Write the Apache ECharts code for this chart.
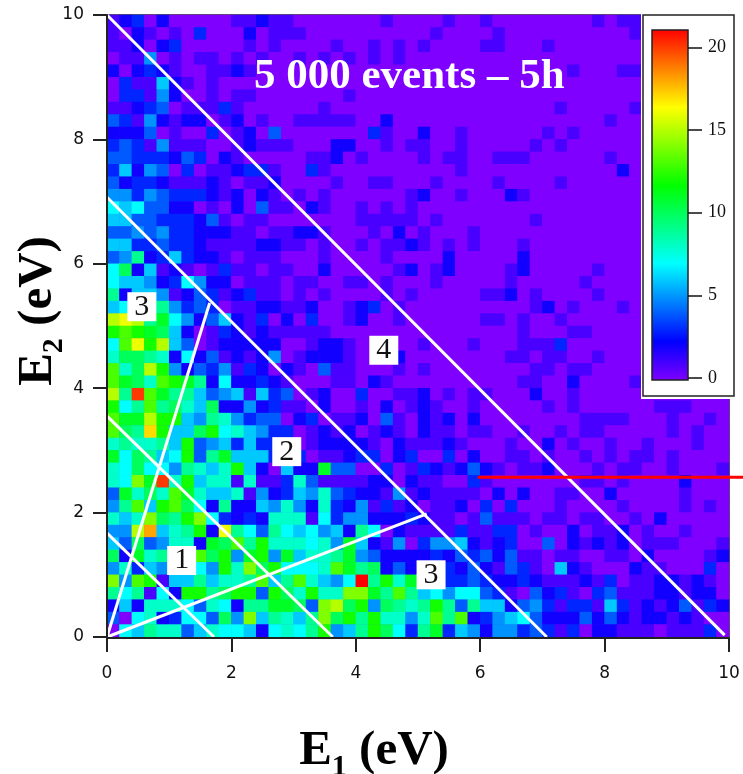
<!DOCTYPE html>
<html><head><meta charset="utf-8">
<style>html,body{margin:0;padding:0;background:#fff}#c{width:743px;height:774px}</style>
<script src="https://cdn.jsdelivr.net/npm/echarts@6/dist/echarts.min.js"></script>
</head><body><div id="c"></div>
<script>
// counts per 0.2 eV bin; first row is the top of the plot (E2 = 9.8-10)
const counts = [
[1,2,3,0,2,0,0,0,0,0,1,1,2,1,1,0,0,0,0,0,0,0,1,0,0,0,0,1,0,0,1,0,0,0,0,0,0,0,0,1,0,1,1,0,0,0,0,0,0,0],
[1,0,2,1,0,1,0,3,0,0,0,2,0,1,1,1,0,0,0,0,0,0,0,0,0,0,1,0,0,0,0,1,0,0,0,0,0,0,0,0,0,0,1,0,0,0,0,0,0,0],
[1,1,2,0,2,3,0,0,0,0,0,1,0,1,0,0,0,0,1,0,0,1,0,1,0,1,0,0,0,0,1,1,0,0,0,1,0,0,0,0,0,0,0,0,0,0,0,0,0,0],
[0,1,1,5,0,1,0,1,1,0,1,0,1,0,0,1,0,1,0,1,0,1,0,1,0,0,0,0,0,0,0,0,0,0,0,0,0,0,0,0,0,0,0,0,0,0,0,0,0,0],
[2,0,2,3,2,1,0,0,1,1,2,1,0,0,0,0,0,0,0,0,0,0,0,0,0,0,0,0,0,0,0,0,0,0,0,0,0,1,0,0,0,1,1,0,0,0,0,0,0,0],
[0,3,1,1,6,2,1,0,1,0,0,0,0,0,0,0,0,0,0,0,0,0,0,0,0,0,0,0,0,0,0,0,0,0,0,0,0,0,0,0,0,0,0,0,0,0,0,0,0,0],
[0,3,3,1,5,2,0,0,1,0,1,1,0,0,0,0,0,0,0,1,0,0,0,0,0,0,0,0,0,0,0,0,0,0,0,0,0,0,0,0,0,0,0,0,0,0,0,0,0,0],
[1,1,2,3,4,0,1,1,1,3,1,0,0,0,0,0,0,1,0,0,0,0,0,0,0,0,0,0,0,0,0,0,0,0,0,0,1,0,0,0,0,0,1,0,0,0,0,0,0,0],
[4,3,1,5,2,1,2,2,0,1,2,0,1,0,0,1,1,1,1,1,0,0,2,0,0,0,0,0,0,0,0,0,0,0,0,0,0,0,0,0,1,0,0,0,0,0,0,0,0,0],
[2,2,2,4,0,1,0,0,3,0,1,2,0,4,0,0,0,0,0,0,0,3,1,0,0,2,0,0,1,0,0,0,0,0,0,1,0,1,0,0,0,0,0,0,0,0,0,0,0,0],
[3,4,3,1,5,1,1,1,0,0,1,2,1,1,1,0,0,0,2,2,0,0,1,0,1,1,0,0,1,0,0,0,0,0,1,0,1,0,0,0,0,0,0,0,0,0,0,0,0,0],
[4,4,3,3,3,2,4,3,0,2,1,0,0,0,0,0,1,1,2,0,1,0,0,0,0,1,0,1,1,0,0,1,1,1,0,0,0,0,0,0,1,0,0,0,0,0,0,0,0,0],
[3,6,2,5,4,0,3,0,1,1,2,3,3,1,0,0,3,1,0,0,0,0,0,0,0,0,0,0,1,0,0,0,0,0,0,0,0,0,0,0,0,2,0,0,0,0,0,0,0,0],
[4,2,3,3,2,1,1,1,2,1,0,1,1,2,0,0,0,0,1,0,0,1,1,0,0,0,1,0,0,0,0,1,0,0,0,0,1,0,0,0,0,0,0,0,0,0,0,0,0,0],
[5,5,3,5,4,3,3,3,2,1,2,0,2,1,0,1,0,1,0,0,0,0,0,0,1,2,0,0,1,0,0,0,2,1,0,0,0,0,0,0,0,0,0,0,0,0,0,0,0,0],
[7,6,7,4,4,2,2,0,1,0,2,0,4,1,1,0,2,1,0,0,1,0,1,0,1,0,0,0,0,0,0,0,0,0,0,0,0,0,0,0,0,0,0,0,0,0,0,0,0,0],
[6,6,4,4,3,3,3,2,4,1,0,1,1,0,0,0,0,0,0,0,1,1,1,1,1,0,1,0,0,0,0,0,0,0,1,0,0,0,0,0,0,0,0,0,0,0,0,0,0,0],
[4,4,5,4,5,3,3,2,2,2,1,1,0,1,1,2,2,1,0,0,0,1,0,2,0,1,0,0,0,1,0,0,0,0,0,0,0,0,0,0,0,0,0,0,0,0,0,0,0,0],
[6,6,3,3,4,3,3,2,1,1,1,1,2,2,1,1,0,1,0,0,1,0,1,1,2,1,0,1,0,1,0,0,0,1,0,0,0,0,0,0,0,0,0,0,0,0,0,0,0,0],
[4,5,9,2,3,6,3,2,2,1,0,1,1,1,0,0,0,1,0,0,0,0,1,0,0,0,0,2,0,0,0,0,0,2,0,0,0,0,0,0,0,0,0,0,0,0,0,0,0,0],
[7,10,2,6,1,2,1,0,1,3,1,1,0,1,1,0,0,2,0,0,0,0,0,1,2,0,1,2,0,0,0,0,1,2,0,0,0,0,0,1,0,0,0,0,0,0,0,0,0,0],
[7,6,6,5,2,3,7,5,2,2,0,1,1,1,0,1,1,0,0,1,1,0,1,0,0,0,1,0,0,0,0,0,1,0,0,0,0,0,1,0,0,0,0,0,0,0,0,0,0,0],
[9,2,6,6,5,1,2,4,3,1,2,3,1,1,0,1,0,1,0,0,0,0,1,0,1,0,0,0,0,0,1,1,2,0,1,0,0,0,0,1,0,0,0,0,0,0,0,0,0,0],
[6,7,8,8,9,5,3,4,3,0,1,1,2,2,1,1,2,0,0,1,2,3,0,1,0,0,0,0,0,0,0,0,0,0,1,2,0,1,0,0,0,1,0,0,0,0,0,0,0,0],
[15,16,15,9,11,7,5,2,4,6,2,1,3,0,2,0,3,0,0,1,2,0,0,1,0,0,0,0,0,0,1,1,0,1,0,0,1,0,0,0,0,0,0,0,0,0,0,0,0,0],
[12,13,12,11,10,6,2,0,1,3,2,1,2,1,1,1,1,1,0,0,0,0,0,0,0,0,0,0,0,0,0,0,0,1,0,0,0,1,1,0,0,0,0,0,0,0,0,0,0,0],
[7,13,16,12,15,6,4,0,1,2,2,2,2,2,0,0,1,2,2,1,0,0,0,0,0,1,0,0,0,1,0,0,0,1,1,1,3,0,0,0,0,0,0,0,0,0,0,0,0,0],
[8,10,10,9,8,2,7,2,4,1,2,1,2,5,0,1,2,2,2,1,0,0,0,2,0,0,0,0,0,0,0,0,1,1,0,1,1,0,0,1,0,0,0,0,0,0,0,0,0,0],
[13,8,10,15,12,5,2,4,3,5,1,3,2,0,2,1,0,4,1,1,0,0,0,1,0,1,0,0,0,0,0,0,0,0,1,1,0,1,1,0,0,0,0,0,0,0,0,0,0,0],
[13,11,10,8,13,12,11,9,2,7,2,2,3,2,1,0,0,0,1,1,0,2,1,0,0,0,0,0,0,0,0,0,0,1,1,0,0,2,0,0,0,0,1,0,0,0,0,0,0,0],
[15,9,20,13,11,9,9,6,4,5,6,1,6,3,4,0,1,2,0,0,3,0,0,1,1,2,0,1,0,1,1,0,0,0,2,0,0,1,0,0,0,0,0,0,0,0,0,0,0,0],
[12,7,9,13,9,10,8,6,10,2,2,5,2,3,1,1,0,2,0,0,1,0,2,0,1,2,1,0,0,1,0,0,0,0,0,1,0,1,0,0,0,0,0,0,1,1,1,0,0,0],
[13,11,11,15,12,12,6,5,9,8,5,3,4,4,0,2,3,0,1,1,2,0,4,1,0,2,1,2,0,2,0,0,0,0,0,0,0,0,1,1,1,1,0,0,0,1,0,0,1,0],
[13,10,9,17,12,6,6,10,12,7,8,6,5,3,3,0,1,2,1,2,0,1,2,1,0,2,1,1,0,1,1,0,0,1,0,0,1,0,1,1,0,0,0,0,0,1,0,1,0,0],
[8,9,8,8,9,6,12,4,5,6,3,6,3,3,3,0,1,2,2,2,2,1,0,2,1,1,1,2,1,0,0,0,1,0,0,2,0,1,0,0,1,0,0,1,0,0,0,1,0,0],
[11,7,10,9,6,7,12,4,9,11,6,6,6,3,3,3,0,1,1,2,3,3,0,2,3,0,0,3,0,2,0,0,1,1,0,1,0,0,1,0,1,0,1,1,0,1,0,0,0,0],
[8,7,10,7,7,5,9,8,6,8,12,6,2,0,6,2,2,11,4,4,0,0,3,0,1,3,2,1,2,4,2,1,0,1,1,2,0,0,0,1,0,1,1,0,0,1,0,0,0,1],
[8,7,14,11,20,8,12,6,8,8,1,8,1,1,3,8,4,1,1,1,1,2,2,0,2,1,1,0,0,3,1,0,0,0,0,0,0,0,1,1,0,1,0,0,0,0,2,0,0,0],
[4,11,8,10,8,13,11,8,6,6,8,1,5,2,3,6,5,8,4,3,2,2,1,5,1,2,1,1,1,1,0,2,0,2,0,0,1,1,0,0,2,0,0,0,0,0,1,0,0,0],
[5,9,13,6,12,13,10,7,2,9,2,2,6,5,8,5,2,8,3,2,5,1,3,1,2,0,1,1,2,0,3,0,3,0,0,0,1,0,0,0,0,1,0,0,0,0,1,0,1,0],
[8,6,8,14,10,9,12,14,7,3,2,3,2,8,8,8,1,7,3,5,5,2,2,2,3,2,1,1,0,1,4,1,1,1,0,1,1,0,1,1,0,0,1,0,2,0,0,0,0,0],
[5,5,15,18,6,8,9,12,2,16,9,7,4,9,7,6,7,5,6,2,9,7,0,2,1,1,1,1,3,1,1,3,3,0,1,0,0,2,0,1,1,2,0,1,0,0,1,0,0,0],
[6,4,10,4,5,8,8,2,11,10,13,9,12,8,8,8,7,8,5,11,6,2,1,5,0,3,5,5,6,2,1,2,3,0,0,4,0,2,1,2,1,2,0,1,1,1,0,0,0,1],
[10,2,11,8,9,8,8,13,10,12,5,11,12,5,11,6,8,8,9,11,5,4,2,2,2,2,3,2,4,3,4,2,4,1,1,0,1,1,0,0,1,1,0,2,0,0,0,0,1,2],
[5,8,3,6,5,8,8,7,5,12,8,14,10,12,7,7,7,8,13,11,9,10,2,4,2,3,3,3,2,4,2,1,4,3,1,0,6,2,1,0,0,0,2,1,1,0,0,0,3,0],
[14,5,13,12,1,6,6,9,6,8,8,9,13,6,9,13,8,6,5,7,21,9,12,8,11,3,3,3,3,4,3,2,2,3,2,1,1,1,2,1,3,0,1,1,2,2,1,2,1,0],
[9,7,9,1,7,2,12,12,9,10,12,12,4,12,10,8,12,8,8,14,14,11,9,13,9,6,7,5,7,7,4,3,1,0,4,2,3,1,0,3,4,1,1,1,2,2,1,2,2,0],
[2,6,2,8,8,8,7,4,8,7,2,9,9,11,11,10,4,14,15,10,12,5,10,9,8,9,12,9,4,9,6,6,2,4,5,3,1,3,3,1,6,3,1,2,1,2,4,1,3,2],
[4,0,7,8,2,3,7,7,4,10,5,14,6,9,8,6,9,14,10,12,9,12,8,8,5,8,13,9,13,2,3,5,6,7,4,2,2,2,4,2,4,2,1,2,2,1,2,1,0,0],
[0,7,6,9,8,8,4,6,8,7,7,6,2,7,8,7,9,12,5,6,9,12,10,7,3,9,11,3,6,5,2,5,5,3,4,3,1,3,0,2,2,1,1,1,0,1,1,1,3,0]
];
const rampColors = ['#8000ff','#0000ff','#0080ff','#00ffff','#00ff80','#00ff00','#80ff00','#ffff00','#ff8000','#ff0000'];
const barTicks = [0,5,10,15,20];
const diagonals = [
  [[0,10],[9.93,0.03]],
  [[0,7.07],[7.07,0]],
  [[0,3.55],[3.63,0]],
  [[0,1.67],[1.72,0]],
  [[0,0],[1.65,5.37]],
  [[0,0],[5.14,1.98]]
];
const redLine = [[5.95,2.57],[10.21,2.57]];
const regionLabels = [[0.56,5.31,'3'],[1.2,1.23,'1'],[2.89,2.98,'2'],[4.45,4.61,'4'],[5.21,1.0,'3']];

const nRows = counts.length;
const cats = counts[0].map((_, i) => String(i));
const cells = [];
counts.forEach((row, r) => row.forEach((v, c) => cells.push([c, nRows - 1 - r, v])));

const serif = '"Liberation Serif","Times New Roman",serif';
const sans = '"DejaVu Sans",Verdana,sans-serif';
const lineSeries = diagonals.map(d => ({
  type:'line', xAxisIndex:1, yAxisIndex:1, data:d, symbol:'none', silent:true, z:4, clip:false,
  lineStyle:{color:'#fff',width:3}
}));
const visibleAxis = (pos) => ({
  type:'value', position:pos, min:0, max:10, interval:2,
  axisLine:{show:true,onZero:false,lineStyle:{color:'#222',width:2}},
  axisTick:{show:true,length:14,lineStyle:{color:'#222',width:2}},
  axisLabel:{color:'#111',fontFamily:sans,fontSize:17,margin:pos==='left'?23:27},
  splitLine:{show:false}, z:5, nameMoveOverlap:false
});
const richName = {
  e:{fontFamily:serif,fontWeight:'bold',fontSize:49,color:'#000',verticalAlign:'top'},
  s:{fontFamily:serif,fontWeight:'bold',fontSize:30,color:'#000',verticalAlign:'bottom',lineHeight:55}
};
const chart = echarts.init(document.getElementById('c'),null,{renderer:'canvas'});
chart.setOption({
  animation:false,
  backgroundColor:'#fff',
  title:{text:'5 000 events – 5h',left:254,top:55,padding:0,
    textStyle:{fontFamily:serif,fontWeight:'bold',fontSize:43,color:'#fff'}},
  grid:[
    {left:107,top:15,width:622,height:622,show:true,backgroundColor:'#8000ff',borderColor:'#222',borderWidth:1.5,outerBoundsMode:'none',containLabel:false},
    {left:652,top:30,width:36,height:350,show:false,outerBoundsMode:'none',containLabel:false},
    {left:107,top:15,width:636,height:622,show:false,outerBoundsMode:'none',containLabel:false}
  ],
  visualMap:{show:false,type:'continuous',min:0,max:21,seriesIndex:0,dimension:2,inRange:{color:rampColors}},
  xAxis:[
    {type:'category',data:cats,gridIndex:0,show:false},
    Object.assign(visibleAxis('bottom'),{gridIndex:0,offset:1,
      name:'{e|E}{s|1}{e| (eV)}',nameLocation:'middle',nameGap:89,nameTextStyle:{rich:richName,align:'center',padding:[0,88,0,0]}}),
    {type:'value',gridIndex:1,min:0,max:1,show:false},
    {type:'value',gridIndex:2,min:0,max:10.21,show:false}
  ],
  yAxis:[
    {type:'category',data:cats,gridIndex:0,show:false},
    Object.assign(visibleAxis('left'),{gridIndex:0,
      name:'{e|E}{s|2}{e| (eV)}',nameLocation:'middle',nameGap:38,nameRotate:90,nameTextStyle:{rich:richName,align:'center',padding:[0,0,0,30]}}),
    {type:'value',gridIndex:1,position:'right',min:-0.12,max:21.05,z:9,
      axisLine:{show:false,onZero:false},
      axisTick:{show:true,length:14,lineStyle:{color:'#111',width:1.5},customValues:barTicks},
      axisLabel:{color:'#111',fontFamily:serif,fontSize:18,margin:20,customValues:barTicks},
      splitLine:{show:false}},
    {type:'value',gridIndex:2,min:0,max:10,show:false}
  ],
  graphic:{elements:[
    {type:'rect',z:6,shape:{x:641,y:13,width:95,height:386},style:{fill:'#fff'}},
    {type:'rect',z:6,shape:{x:643,y:15,width:91,height:381},
     style:{fill:'#fff',stroke:'#222',lineWidth:1.5}}
  ]},
  series:[
    {type:'heatmap',xAxisIndex:0,yAxisIndex:0,data:cells,progressive:0,silent:true,z:2,itemStyle:{borderWidth:0}},
    ...lineSeries,
    {type:'line',xAxisIndex:3,yAxisIndex:3,data:redLine,symbol:'none',silent:true,z:4,clip:false,
     lineStyle:{color:'#ff0000',width:3}},
    {type:'scatter',xAxisIndex:1,yAxisIndex:1,data:regionLabels,symbolSize:0,silent:true,z:5,
     itemStyle:{opacity:1},
     label:{show:true,position:'inside',formatter:p=>p.value[2],color:'#111',fontFamily:serif,fontSize:30,
       backgroundColor:'#fff',padding:[0,7,0,7],lineHeight:29}},
    {type:'custom',xAxisIndex:2,yAxisIndex:2,data:[[0,21.05]],z:8,silent:true,
     renderItem:(params,api)=>{
       const a=api.coord([0,-0.12]), b=api.coord([1,api.value(1)]);
       return {type:'rect',shape:{x:a[0],y:b[1],width:b[0]-a[0],height:a[1]-b[1]},
         style:{stroke:'#222',lineWidth:1.5,fill:new echarts.graphic.LinearGradient(0,1,0,0,
           rampColors.map((color,i)=>({offset:i/(rampColors.length-1),color})))}};
     }}
  ]
});
</script></body></html>
